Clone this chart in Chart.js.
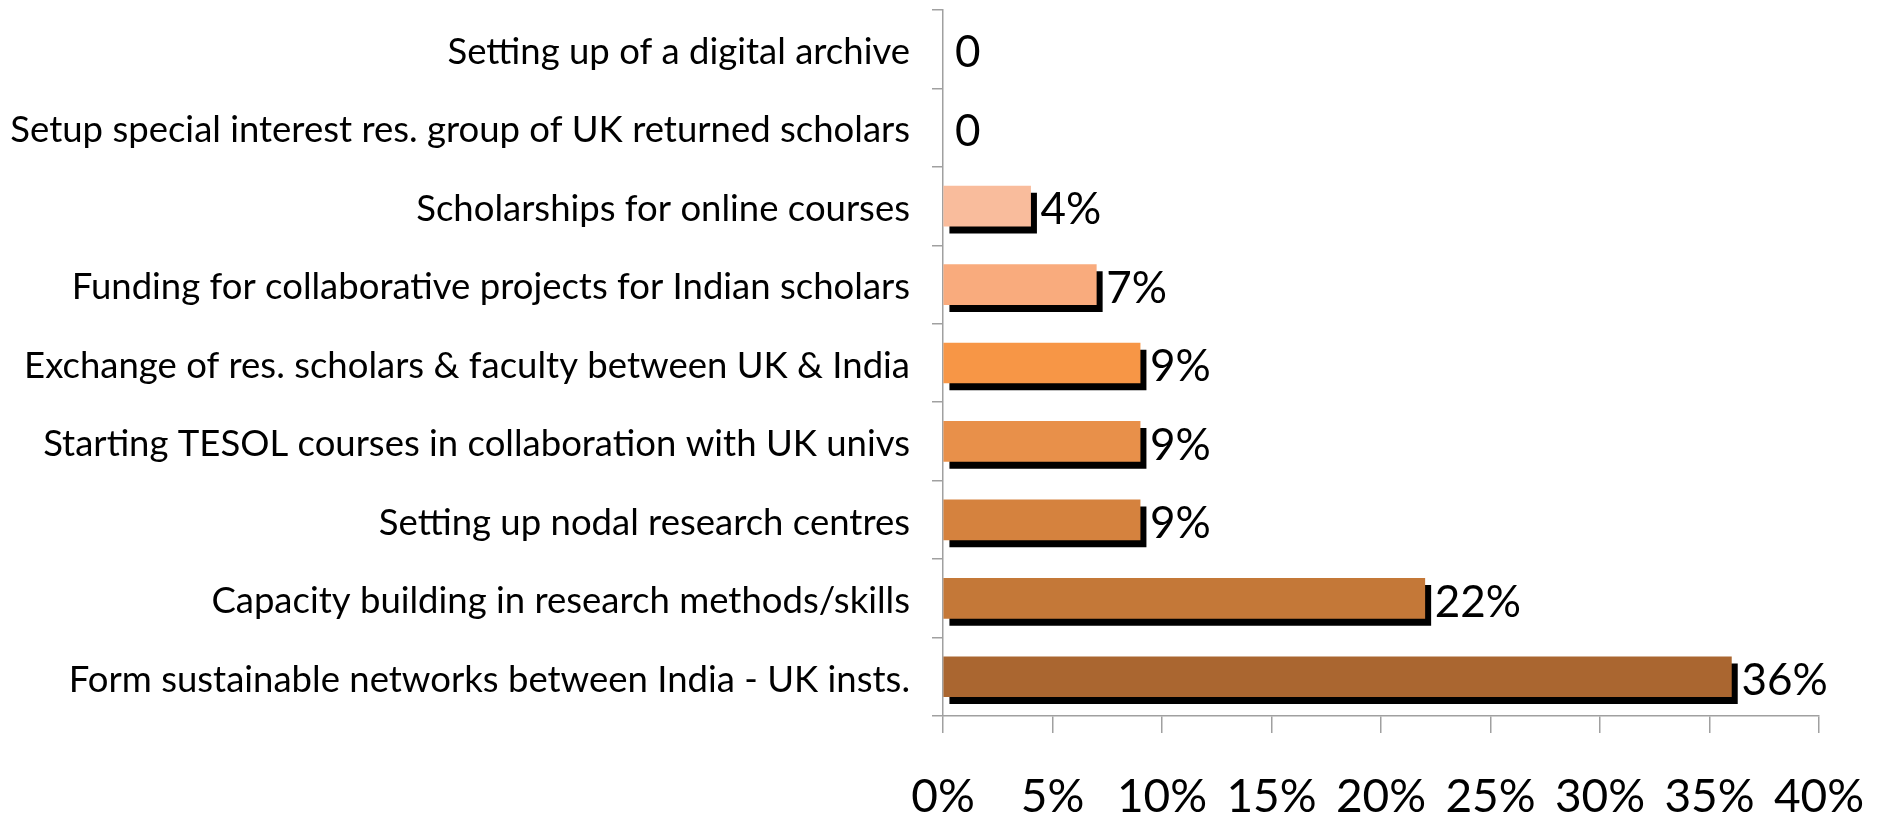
<!DOCTYPE html>
<html>
<head>
<meta charset="utf-8">
<script src="https://cdn.jsdelivr.net/npm/chart.js@4.4.1/dist/chart.umd.min.js"></script>
<style>
  html, body { margin: 0; padding: 0; background: #fff; }
  #wrap { width: 1881px; height: 820px; }
</style>
</head>
<body>
<div id="wrap"><canvas id="chart"></canvas></div>
<script>
const categories = [
  'Setting up of a digital archive',
  'Setup special interest res. group of UK returned scholars',
  'Scholarships for online courses',
  'Funding for collaborative projects for Indian scholars',
  'Exchange of res. scholars & faculty between UK & India',
  'Starting TESOL courses in collaboration with UK univs',
  'Setting up nodal research centres',
  'Capacity building in research methods/skills',
  'Form sustainable networks between India - UK insts.'
];
const values = [0, 0, 4, 7, 9, 9, 9, 22, 36];
const valueLabels = ['0', '0', '4%', '7%', '9%', '9%', '9%', '22%', '36%'];
const barColors = ['#f9bc9c', '#f9bc9c', '#f9bc9c', '#f9ab7d', '#f79646', '#e8904a', '#d5823e', '#c47838', '#aa6630'];

const FONT = 'Lato, "Open Sans", sans-serif';

// black drop shadow under each bar
const shadow = {
  id: 'shadow',
  beforeDatasetsDraw(c) {
    const x = c.ctx;
    x.save();
    x.shadowColor = '#000';
    x.shadowBlur = 0;
    x.shadowOffsetX = 6;
    x.shadowOffsetY = 7;
  },
  afterDatasetsDraw(c) { c.ctx.restore(); }
};

const barLabels = {
  id: 'barLabels',
  afterDraw(c) {
    const x = c.ctx;
    const meta = c.getDatasetMeta(0);
    x.save();
    x.font = '44px ' + FONT;
    x.fillStyle = '#000';
    x.textAlign = 'left';
    x.textBaseline = 'middle';
    meta.data.forEach((bar, i) => {
      const pad = values[i] > 0 ? 10 : 12;
      x.fillText(valueLabels[i], bar.x + pad, bar.y + 4);
    });
    x.restore();
  }
};

new Chart(document.getElementById('chart'), {
  type: 'bar',
  data: {
    labels: categories,
    datasets: [{
      data: values,
      backgroundColor: ctx => values[ctx.dataIndex] > 0 ? barColors[ctx.dataIndex] : 'rgba(0,0,0,0)',
      barThickness: 40,
      borderWidth: 0
    }]
  },
  options: {
    indexAxis: 'y',
    responsive: true,
    maintainAspectRatio: false,
    animation: false,
    layout: { padding: { top: 10, right: 62, left: 0, bottom: 0 } },
    plugins: { legend: { display: false }, tooltip: { enabled: false } },
    scales: {
      x: {
        min: 0, max: 40,
        ticks: {
          stepSize: 5,
          callback: v => v + '%',
          color: '#000',
          font: { family: FONT, size: 46 },
          padding: 37,
          maxRotation: 0
        },
        grid: { drawOnChartArea: false, tickLength: 17, color: '#a0a0a0', lineWidth: 1.5 },
        border: { color: '#a0a0a0', width: 1.5 },
        afterFit: s => { s.height = 104; s.paddingLeft = 0; s.paddingRight = 0; }
      },
      y: {
        ticks: {
          color: '#000',
          font: { family: FONT, size: 36.5 },
          padding: 22,
          labelOffset: 3
        },
        grid: { offset: true, drawOnChartArea: false, tickLength: 11, color: '#a0a0a0', lineWidth: 1.5 },
        border: { color: '#a0a0a0', width: 1.5 },
        afterFit: s => { s.width = 943; s.paddingTop = 0; s.paddingBottom = 0; }
      }
    }
  },
  plugins: [shadow, barLabels]
});
</script>
</body>
</html>
